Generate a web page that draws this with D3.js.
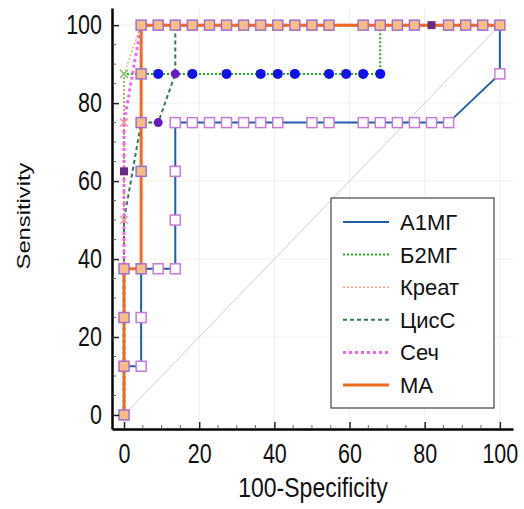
<!DOCTYPE html>
<html>
<head>
<meta charset="utf-8">
<script src="https://cdn.jsdelivr.net/npm/d3@7"></script>
<style>
  body { margin: 0; background: #fff; }
  text { font-family: "Liberation Sans", Arial, sans-serif; fill: #111; }
</style>
</head>
<body>
<svg id="chart" width="524" height="509"></svg>
<script>
// tick labels
const xTicks = [0, 20, 40, 60, 80, 100];
const yTicks = [0, 20, 40, 60, 80, 100];
const legendNames = ["А1МГ", "Б2МГ", "Креат", "ЦисС", "Сеч", "МА"];

// А1МГ
const a1mgX = [0, 0, 4.55, 4.55, 4.55, 9.09, 13.64, 13.64, 13.64, 13.64, 18.18, 22.73, 27.27, 31.82, 36.36, 40.91, 50, 54.55, 63.64, 68.18, 72.73, 77.27, 81.82, 86.36, 100, 100];
const a1mgY = [0, 12.5, 12.5, 25, 37.5, 37.5, 37.5, 50, 62.5, 75, 75, 75, 75, 75, 75, 75, 75, 75, 75, 75, 75, 75, 75, 75, 87.5, 100];
const a1mgMarkX = [4.55, 4.55, 9.09, 13.64, 13.64, 13.64, 13.64, 18.18, 22.73, 27.27, 31.82, 36.36, 40.91, 50, 54.55, 63.64, 68.18, 72.73, 77.27, 81.82, 86.36, 100];
const a1mgMarkY = [12.5, 25, 37.5, 37.5, 50, 62.5, 75, 75, 75, 75, 75, 75, 75, 75, 75, 75, 75, 75, 75, 75, 75, 87.5];

// Б2МГ
const b2mgX = [0, 0, 4.55, 68.18, 68.18, 100];
const b2mgY = [0, 87.5, 87.5, 87.5, 100, 100];
const b2mgDotX = [9.09, 18.18, 27.27, 36.36, 40.91, 45.45, 54.55, 59.09, 63.64, 68.18];
const b2mgDotY = [87.5, 87.5, 87.5, 87.5, 87.5, 87.5, 87.5, 87.5, 87.5, 87.5];

// Креат
const kreatX = [0, 0, 4.55, 100];
const kreatY = [0, 87.5, 100, 100];
const kreatCrossX = [0, 0, 0];
const kreatCrossY = [50, 75, 87.5];

// ЦисС
const cisX = [0, 0, 4.55, 9.09, 13.64, 13.64, 100];
const cisY = [0, 50, 75, 75, 87.5, 100, 100];
const cisDotX = [9.09, 13.64];
const cisDotY = [75, 87.5];

// Сеч
const sechX = [0, 0, 4.55, 100];
const sechY = [0, 75, 100, 100];
const sechMarkX = [0, 81.82];
const sechMarkY = [62.5, 100];

// МА
const maX = [0, 0, 0, 0, 4.55, 4.55, 4.55, 4.55, 4.55, 9.09, 13.64, 18.18, 22.73, 27.27, 31.82, 36.36, 40.91, 45.45, 50, 54.55, 63.64, 68.18, 72.73, 77.27, 81.82, 86.36, 90.91, 95.45, 100];
const maY = [0, 12.5, 25, 37.5, 37.5, 62.5, 75, 87.5, 100, 100, 100, 100, 100, 100, 100, 100, 100, 100, 100, 100, 100, 100, 100, 100, 100, 100, 100, 100, 100];
const maMarkX = [0, 0, 0, 0, 4.55, 4.55, 4.55, 4.55, 4.55, 9.09, 13.64, 18.18, 22.73, 27.27, 31.82, 36.36, 40.91, 45.45, 50, 54.55, 63.64, 68.18, 72.73, 77.27, 86.36, 90.91, 95.45, 100];
const maMarkY = [0, 12.5, 25, 37.5, 37.5, 62.5, 75, 87.5, 100, 100, 100, 100, 100, 100, 100, 100, 100, 100, 100, 100, 100, 100, 100, 100, 100, 100, 100, 100];

const svg = d3.select("#chart");

const x = d3.scaleLinear().domain([-3.2, 103.5]).range([112, 513]);
const y = d3.scaleLinear().domain([-3.6, 104.4]).range([429, 8]);

const zip = (xs, ys) => xs.map((v, i) => [v, ys[i]]);
const line = d3.line().x(d => x(d[0])).y(d => y(d[1]));

// faint grid
svg.append("g").selectAll("line").data(xTicks.slice(1)).join("line")
  .attr("x1", d => x(d)).attr("x2", d => x(d))
  .attr("y1", y.range()[0]).attr("y2", y.range()[1])
  .attr("stroke", "#f0f0f0");
svg.append("g").selectAll("line").data(yTicks.slice(1)).join("line")
  .attr("x1", x.range()[0]).attr("x2", x.range()[1])
  .attr("y1", d => y(d)).attr("y2", d => y(d))
  .attr("stroke", "#f0f0f0");

// diagonal reference
svg.append("path").attr("d", line([[0, 0], [100, 100]]))
  .attr("fill", "none").attr("stroke", "#dcc8c8").attr("stroke-width", 1);

// series lines
const series = [
  { pts: zip(a1mgX, a1mgY), color: "#2060aa", width: 2, dash: null },
  { pts: zip(b2mgX, b2mgY), color: "#22aa22", width: 2, dash: "2,2" },
  { pts: zip(kreatX, kreatY), color: "#f4a488", width: 1.5, dash: "2,2" },
  { pts: zip(cisX, cisY), color: "#2e7d4a", width: 2, dash: "4,3" },
  { pts: zip(sechX, sechY), color: "#ee66ee", width: 3, dash: "3,3" },
  { pts: zip(maX, maY), color: "#f06a20", width: 3, dash: null }
];
svg.append("g").selectAll("path").data(series).join("path")
  .attr("d", d => line(d.pts))
  .attr("fill", "none")
  .attr("stroke", d => d.color)
  .attr("stroke-width", d => d.width)
  .attr("stroke-dasharray", d => d.dash);

// markers
const sq = 10;
svg.append("g").selectAll("rect").data(zip(a1mgMarkX, a1mgMarkY)).join("rect")
  .attr("x", d => x(d[0]) - sq / 2).attr("y", d => y(d[1]) - sq / 2)
  .attr("width", sq).attr("height", sq)
  .attr("fill", "#fff").attr("stroke", "#c87ad8").attr("stroke-width", 1.5);

svg.append("g").selectAll("circle").data(zip(b2mgDotX, b2mgDotY)).join("circle")
  .attr("cx", d => x(d[0])).attr("cy", d => y(d[1])).attr("r", 5)
  .attr("fill", "#1010e8");

svg.append("g").selectAll("circle").data(zip(cisDotX, cisDotY)).join("circle")
  .attr("cx", d => x(d[0])).attr("cy", d => y(d[1])).attr("r", 4.5)
  .attr("fill", "#6a18c8");

svg.append("g").selectAll("path").data(zip(kreatCrossX, kreatCrossY)).join("path")
  .attr("d", d => {
    const cx = x(d[0]), cy = y(d[1]);
    return `M${cx - 4},${cy - 4}L${cx + 4},${cy + 4}M${cx - 4},${cy + 4}L${cx + 4},${cy - 4}`;
  })
  .attr("stroke", (d, i) => i === 2 ? "#88c070" : "#f0a0a0").attr("stroke-width", 1.5);

svg.append("g").selectAll("rect").data(zip(maMarkX, maMarkY)).join("rect")
  .attr("x", d => x(d[0]) - sq / 2).attr("y", d => y(d[1]) - sq / 2)
  .attr("width", sq).attr("height", sq)
  .attr("fill", "#f6bd88").attr("stroke", "#a070d0").attr("stroke-width", 1.5);

svg.append("g").selectAll("rect").data(zip(sechMarkX, sechMarkY)).join("rect")
  .attr("x", d => x(d[0]) - 4).attr("y", d => y(d[1]) - 4)
  .attr("width", 8).attr("height", 8)
  .attr("fill", "#6a2a80");

// axes
const stretch = 1.28;
const xAxis = svg.append("g").attr("transform", `translate(0,${y.range()[0]})`)
  .call(d3.axisBottom(x).tickValues(xTicks).tickSizeInner(-7).tickSizeOuter(0).tickPadding(11));
xAxis.selectAll("text").attr("font-size", 21.5)
  .attr("transform", `scale(1,${stretch})`);

const yAxis = svg.append("g").attr("transform", `translate(${x.range()[0]},0)`)
  .call(d3.axisLeft(y).tickValues(yTicks).tickSizeInner(-7).tickSizeOuter(0).tickPadding(10));
yAxis.selectAll("text").attr("font-size", 21.5)
  .attr("transform", `scale(1,${stretch})`);

[xAxis, yAxis].forEach(g => {
  g.select(".domain").attr("stroke", "#000").attr("stroke-width", 2.5);
  g.selectAll(".tick line").attr("stroke", "#222").attr("stroke-width", 1.5);
  g.selectAll("text").attr("fill", "#111").attr("font-family", null);
});

// minor ticks
const minor = d3.range(0, 101, 5).filter(v => v % 20 !== 0);
svg.append("g").selectAll("line").data(minor).join("line")
  .attr("x1", d => x(d)).attr("x2", d => x(d))
  .attr("y1", y.range()[0] - 1).attr("y2", y.range()[0] - 4)
  .attr("stroke", "#666");
svg.append("g").selectAll("line").data(minor).join("line")
  .attr("x1", x.range()[0] + 1).attr("x2", x.range()[0] + 4)
  .attr("y1", d => y(d)).attr("y2", d => y(d))
  .attr("stroke", "#666");

// axis titles
svg.append("text")
  .attr("transform", `translate(313,497) scale(1,1.18)`)
  .attr("text-anchor", "middle").attr("font-size", 23)
  .text("100-Specificity");
svg.append("text")
  .attr("transform", `translate(30,216) rotate(-90) scale(1.25,1)`)
  .attr("text-anchor", "middle").attr("font-size", 19)
  .text("Sensitivity");

// legend
const legend = svg.append("g");
legend.append("rect")
  .attr("x", 331).attr("y", 198).attr("width", 163).attr("height", 210)
  .attr("fill", "#fff").attr("stroke", "#444").attr("stroke-width", 1.2);
const legendY = d3.scalePoint().domain(legendNames).range([222, 385]);
const rows = legend.selectAll("g.row").data(series.map((s, i) => ({ ...s, name: legendNames[i] })))
  .join("g").attr("class", "row")
  .attr("transform", d => `translate(0,${legendY(d.name)})`);
rows.append("line")
  .attr("x1", 343).attr("x2", 389)
  .attr("stroke", d => d.color)
  .attr("stroke-width", d => d.width)
  .attr("stroke-dasharray", d => d.dash);
rows.append("text")
  .attr("x", 400).attr("y", 8)
  .attr("font-size", 22)
  .text(d => d.name);
</script>
</body>
</html>
